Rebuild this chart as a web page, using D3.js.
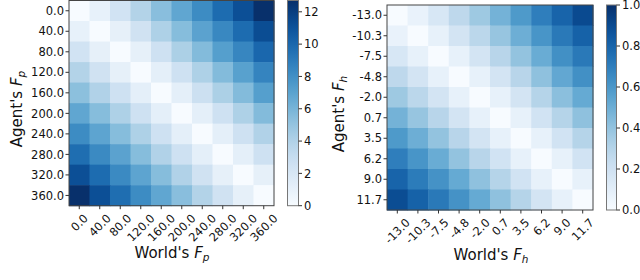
<!DOCTYPE html>
<html>
<head>
<meta charset="utf-8">
<script src="https://cdn.jsdelivr.net/npm/d3@7"></script>
<style>
  body { margin: 0; background: #fff; }
  svg { display: block; font-family: "DejaVu Sans", sans-serif; }
</style>
</head>
<body>
<svg id="chart" width="640" height="280"></svg>
<script>
// tick labels for both heatmaps
const fpLabels = ["0.0", "40.0", "80.0", "120.0", "160.0", "200.0", "240.0", "280.0", "320.0", "360.0"];
const fhLabels = ["-13.0", "-10.3", "-7.5", "-4.8", "-2.0", "0.7", "3.5", "6.2", "9.0", "11.7"];

// rows = agent's value, columns = world's value
const fpValues = [
  [0.0, 1.0, 2.4, 3.9, 5.4, 6.8, 8.2, 9.8, 11.2, 12.7],
  [1.0, 0.0, 1.1, 2.5, 4.1, 5.5, 7.0, 8.4, 9.8, 11.3],
  [2.4, 1.1, 0.0, 1.1, 2.6, 4.2, 5.6, 7.2, 8.5, 10.0],
  [3.9, 2.5, 1.1, 0.0, 1.2, 2.6, 4.1, 5.6, 7.1, 8.6],
  [5.3, 4.0, 2.6, 1.2, 0.0, 1.2, 2.7, 4.2, 5.6, 7.2],
  [6.8, 5.5, 4.1, 2.6, 1.2, 0.0, 1.2, 2.6, 4.1, 5.6],
  [8.2, 6.9, 5.5, 4.1, 2.6, 1.2, 0.0, 1.2, 2.6, 4.0],
  [9.7, 8.3, 7.0, 5.5, 4.0, 2.6, 1.2, 0.0, 1.2, 2.6],
  [11.2, 9.8, 8.3, 6.9, 5.5, 4.0, 2.5, 1.1, 0.0, 1.1],
  [12.7, 11.2, 9.7, 8.2, 6.8, 5.4, 3.9, 2.5, 1.1, 0.0]
];
const fhValues = [
  [0.00, 0.07, 0.16, 0.27, 0.37, 0.48, 0.59, 0.70, 0.80, 0.90],
  [0.07, 0.00, 0.08, 0.18, 0.28, 0.39, 0.50, 0.61, 0.72, 0.81],
  [0.16, 0.08, 0.00, 0.08, 0.18, 0.29, 0.40, 0.51, 0.63, 0.72],
  [0.27, 0.18, 0.08, 0.00, 0.08, 0.18, 0.29, 0.41, 0.53, 0.63],
  [0.37, 0.28, 0.18, 0.08, 0.00, 0.08, 0.18, 0.30, 0.42, 0.52],
  [0.48, 0.39, 0.29, 0.18, 0.08, 0.00, 0.08, 0.19, 0.30, 0.41],
  [0.59, 0.50, 0.40, 0.29, 0.18, 0.08, 0.00, 0.08, 0.19, 0.30],
  [0.70, 0.61, 0.51, 0.40, 0.29, 0.19, 0.08, 0.00, 0.08, 0.19],
  [0.80, 0.71, 0.62, 0.52, 0.41, 0.30, 0.19, 0.08, 0.00, 0.08],
  [0.89, 0.81, 0.72, 0.62, 0.52, 0.41, 0.30, 0.18, 0.08, 0.00]
];

const fpBarTicks = [0, 2, 4, 6, 8, 10, 12];
const fhBarTicks = [0, 0.2, 0.4, 0.6, 0.8, 1.0];
const fhRange = [0, 1];

const svg = d3.select('#chart');
const tickFont = 11.5;
const titleFont = 15;

function drawPanel(opts) {
  const g = svg.append('g').attr('class', 'panel');
  const n = opts.labels.length;
  const x = d3.scaleBand().domain(d3.range(n)).range([opts.x0, opts.x1]);
  const y = d3.scaleBand().domain(d3.range(n)).range([opts.y0, opts.y1]);
  const color = d3.scaleSequential(d3.interpolateBlues).domain(opts.domain);

  const cells = opts.values.flatMap((row, i) => row.map((v, j) => ({ i, j, v })));
  g.selectAll('rect.cell')
    .data(cells)
    .join('rect')
      .attr('class', 'cell')
      .attr('x', d => x(d.j))
      .attr('y', d => y(d.i))
      .attr('width', x.bandwidth() + 0.5)
      .attr('height', y.bandwidth() + 0.5)
      .attr('fill', d => color(d.v));

  g.append('rect')
    .attr('x', opts.x0).attr('y', opts.y0)
    .attr('width', opts.x1 - opts.x0).attr('height', opts.y1 - opts.y0)
    .attr('fill', 'none').attr('stroke', '#444').attr('stroke-width', 1);

  // y ticks
  g.selectAll('line.ytick')
    .data(opts.labels)
    .join('line')
      .attr('x1', opts.x0 - 3.5).attr('x2', opts.x0)
      .attr('y1', (d, i) => y(i) + y.bandwidth() / 2)
      .attr('y2', (d, i) => y(i) + y.bandwidth() / 2)
      .attr('stroke', '#333');
  g.selectAll('text.ylab')
    .data(opts.labels)
    .join('text')
      .attr('class', 'ylab')
      .attr('x', opts.x0 - 5)
      .attr('y', (d, i) => y(i) + y.bandwidth() / 2)
      .attr('dy', '0.36em')
      .attr('text-anchor', 'end')
      .attr('font-size', tickFont)
      .attr('fill', '#111')
      .text(d => d);

  // x ticks, rotated 45 deg with the label box centred under the tick
  g.selectAll('line.xtick')
    .data(opts.labels)
    .join('line')
      .attr('x1', (d, i) => x(i) + x.bandwidth() / 2)
      .attr('x2', (d, i) => x(i) + x.bandwidth() / 2)
      .attr('y1', opts.y1).attr('y2', opts.y1 + 3.5)
      .attr('stroke', '#333');
  g.selectAll('text.xlab')
    .data(opts.labels)
    .join('text')
      .attr('class', 'xlab')
      .attr('text-anchor', 'middle')
      .attr('dy', '0.36em')
      .attr('font-size', tickFont)
      .attr('fill', '#111')
      .text(d => d)
      .attr('transform', function(d, i) {
        const len = this.getComputedTextLength();
        const half = (len + tickFont * 0.85) * 0.7071 / 2;
        return `translate(${x(i) + x.bandwidth() / 2},${opts.y1 + 7 + half}) rotate(-45)`;
      });

  // axis titles
  const xt = g.append('text')
    .attr('x', opts.xTitle[0]).attr('y', opts.xTitle[1])
    .attr('text-anchor', 'middle')
    .attr('font-size', titleFont)
    .attr('fill', '#111');
  xt.append('tspan').text("World's ");
  xt.append('tspan').attr('font-style', 'italic').text('F');
  xt.append('tspan').attr('font-style', 'italic').attr('font-size', titleFont * 0.7)
    .attr('dy', 3).text(opts.sub);

  const yt = g.append('text')
    .attr('transform', `translate(${opts.yTitle[0]},${opts.yTitle[1]}) rotate(-90)`)
    .attr('text-anchor', 'middle')
    .attr('font-size', titleFont)
    .attr('fill', '#111');
  yt.append('tspan').text("Agent's ");
  yt.append('tspan').attr('font-style', 'italic').text('F');
  yt.append('tspan').attr('font-style', 'italic').attr('font-size', titleFont * 0.7)
    .attr('dy', 3).text(opts.sub);

  // colorbar
  const cb = opts.cb;
  const cy = d3.scaleLinear().domain(opts.domain).range([opts.y1, opts.y0]);
  const gradId = 'grad-' + opts.sub;
  const grad = svg.append('defs').append('linearGradient')
    .attr('id', gradId)
    .attr('x1', 0).attr('x2', 0).attr('y1', 1).attr('y2', 0);
  grad.selectAll('stop')
    .data(d3.range(0, 1.0001, 0.05))
    .join('stop')
      .attr('offset', d => d)
      .attr('stop-color', d => d3.interpolateBlues(d));
  g.append('rect')
    .attr('x', cb[0]).attr('y', opts.y0)
    .attr('width', cb[1] - cb[0]).attr('height', opts.y1 - opts.y0)
    .attr('fill', `url(#${gradId})`)
    .attr('stroke', '#777').attr('stroke-width', 1);
  g.selectAll('line.cbtick')
    .data(opts.barTicks)
    .join('line')
      .attr('x1', cb[1]).attr('x2', cb[1] + 3.5)
      .attr('y1', d => cy(d)).attr('y2', d => cy(d))
      .attr('stroke', '#333');
  g.selectAll('text.cblab')
    .data(opts.barTicks)
    .join('text')
      .attr('x', cb[1] + 5.5)
      .attr('y', d => cy(d))
      .attr('dy', '0.36em')
      .attr('font-size', tickFont)
      .attr('fill', '#111')
      .text(d => opts.barFormat(d));
}

drawPanel({
  labels: fpLabels, values: fpValues, sub: 'p',
  domain: d3.extent(fpValues.flat()),
  x0: 69, x1: 274, y0: 0.5, y1: 205.7,
  cb: [287.5, 298.5],
  barTicks: fpBarTicks, barFormat: d3.format('d'),
  xTitle: [172, 258], yTitle: [22, 109]
});

drawPanel({
  labels: fhLabels, values: fhValues, sub: 'h',
  domain: fhRange,
  x0: 387, x1: 593, y0: 5, y1: 210,
  cb: [606.5, 616.5],
  barTicks: fhBarTicks, barFormat: d3.format('.1f'),
  xTitle: [491, 260], yTitle: [344, 114]
});
</script>
</body>
</html>
